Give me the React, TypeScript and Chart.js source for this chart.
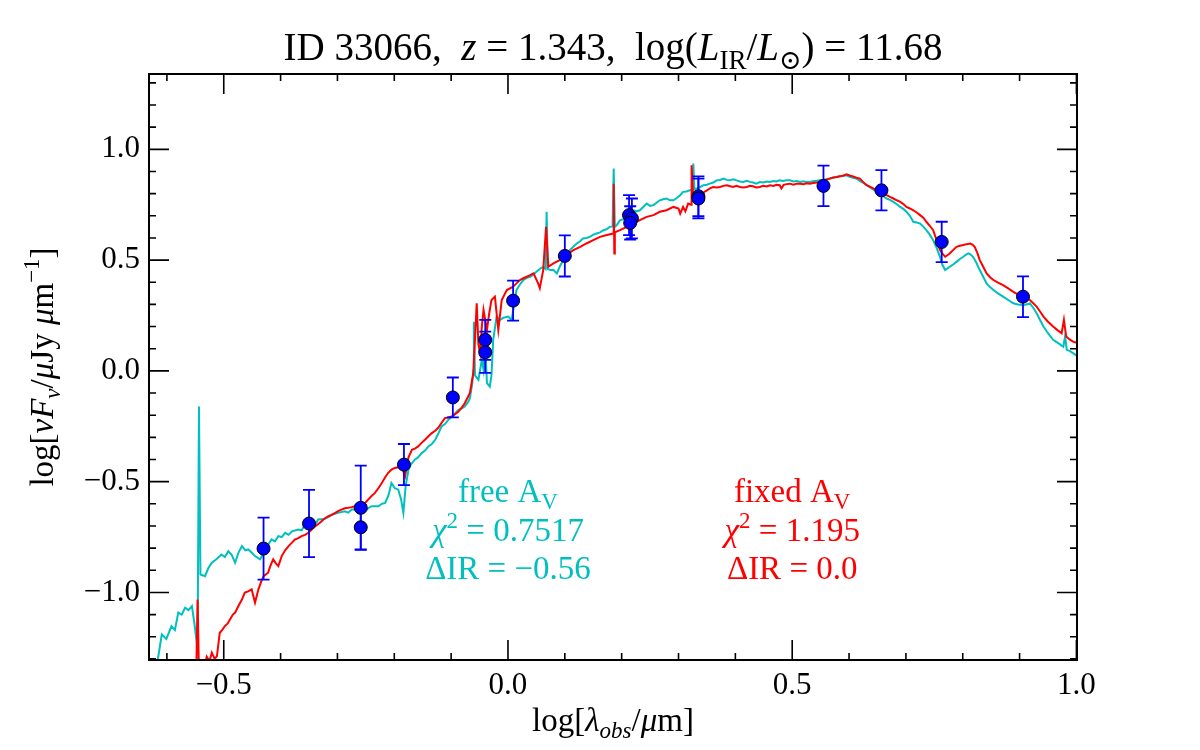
import React, { useEffect, useRef } from "react";
import { Chart, registerables } from "chart.js";
Chart.register(...registerables);

// ---------- data ----------
const cyanX = [-0.622,-0.615,-0.609,-0.601,-0.592,-0.586,-0.580,-0.574,-0.568,-0.562,-0.556,-0.551,-0.546,-0.5436,-0.541,-0.533,-0.527,-0.521,-0.513,-0.504,-0.498,-0.492,-0.486,-0.480,-0.474,-0.468,-0.462,-0.457,-0.451,-0.445,-0.436,-0.427,-0.416,-0.410,-0.404,-0.398,-0.392,-0.386,-0.380,-0.369,-0.363,-0.357,-0.345,-0.340,-0.334,-0.322,-0.316,-0.310,-0.299,-0.287,-0.281,-0.275,-0.263,-0.252,-0.246,-0.240,-0.228,-0.222,-0.216,-0.210,-0.205,-0.199,-0.193,-0.188,-0.184,-0.180,-0.175,-0.170,-0.164,-0.158,-0.152,-0.146,-0.140,-0.134,-0.128,-0.122,-0.117,-0.111,-0.105,-0.096,-0.087,-0.082,-0.076,-0.070,-0.067,-0.063,-0.061,-0.060,-0.058,-0.052,-0.046,-0.043,-0.040,-0.037,-0.032,-0.029,-0.026,-0.020,-0.014,-0.008,0.0005,0.0065,0.015,0.021,0.027,0.033,0.039,0.045,0.050,0.056,0.062,0.066,0.068,0.070,0.075,0.080,0.086,0.091,0.097,0.103,0.109,0.115,0.121,0.127,0.132,0.138,0.144,0.150,0.156,0.162,0.168,0.174,0.179,0.184,0.186,0.188,0.192,0.197,0.203,0.209,0.215,0.220,0.226,0.232,0.238,0.244,0.250,0.256,0.262,0.267,0.273,0.279,0.285,0.291,0.297,0.303,0.308,0.314,0.320,0.325,0.326,0.328,0.332,0.338,0.344,0.350,0.355,0.361,0.367,0.373,0.379,0.385,0.390,0.396,0.402,0.408,0.414,0.420,0.426,0.431,0.437,0.443,0.449,0.455,0.461,0.467,0.472,0.478,0.484,0.490,0.496,0.502,0.508,0.514,0.520,0.525,0.531,0.537,0.543,0.549,0.555,0.560,0.566,0.572,0.578,0.584,0.590,0.596,0.602,0.607,0.613,0.619,0.625,0.631,0.637,0.643,0.649,0.655,0.660,0.666,0.672,0.678,0.684,0.690,0.696,0.701,0.707,0.713,0.719,0.725,0.731,0.736,0.742,0.748,0.754,0.760,0.764,0.769,0.773,0.777,0.783,0.789,0.795,0.801,0.806,0.810,0.814,0.818,0.824,0.830,0.836,0.842,0.848,0.854,0.862,0.871,0.880,0.889,0.897,0.906,0.912,0.918,0.924,0.930,0.936,0.942,0.950,0.959,0.968,0.977,0.980,0.983,0.988,0.994,1.003];
const cyanY = [-1.40,-1.287,-1.189,-1.21,-1.152,-1.17,-1.091,-1.10,-1.069,-1.08,-1.062,-1.152,-1.257,-0.161,-0.919,-0.927,-0.89,-0.866,-0.85,-0.829,-0.84,-0.814,-0.83,-0.866,-0.82,-0.791,-0.81,-0.806,-0.82,-0.836,-0.851,-0.806,-0.761,-0.77,-0.746,-0.75,-0.731,-0.74,-0.724,-0.716,-0.72,-0.694,-0.686,-0.70,-0.671,-0.668,-0.66,-0.649,-0.641,-0.634,-0.64,-0.626,-0.626,-0.634,-0.62,-0.611,-0.611,-0.60,-0.596,-0.56,-0.506,-0.53,-0.536,-0.58,-0.641,-0.52,-0.446,-0.42,-0.401,-0.39,-0.371,-0.36,-0.341,-0.33,-0.311,-0.28,-0.251,-0.24,-0.221,-0.20,-0.176,-0.17,-0.161,-0.14,-0.123,-0.06,0.0,0.222,-0.02,-0.04,0.05,0.005,0.12,-0.055,-0.071,-0.02,0.14,0.245,0.23,0.24,0.245,0.23,0.365,0.39,0.41,0.42,0.425,0.435,0.447,0.46,0.470,0.46,0.718,0.46,0.455,0.455,0.440,0.47,0.5,0.52,0.545,0.56,0.575,0.585,0.598,0.60,0.605,0.615,0.620,0.625,0.635,0.64,0.650,0.652,0.913,0.650,0.66,0.680,0.685,0.695,0.71,0.725,0.72,0.725,0.74,0.755,0.745,0.748,0.76,0.770,0.775,0.778,0.77,0.770,0.78,0.793,0.808,0.81,0.815,0.82,0.936,0.82,0.823,0.83,0.838,0.84,0.845,0.85,0.860,0.862,0.868,0.862,0.860,0.865,0.860,0.855,0.853,0.858,0.853,0.85,0.845,0.852,0.85,0.855,0.853,0.857,0.855,0.860,0.857,0.86,0.860,0.855,0.857,0.853,0.856,0.852,0.853,0.856,0.858,0.860,0.862,0.865,0.868,0.872,0.875,0.878,0.88,0.883,0.875,0.872,0.868,0.858,0.848,0.838,0.828,0.818,0.808,0.798,0.788,0.778,0.772,0.763,0.752,0.740,0.73,0.718,0.70,0.673,0.67,0.665,0.65,0.635,0.615,0.590,0.555,0.515,0.48,0.455,0.462,0.470,0.48,0.492,0.505,0.515,0.525,0.530,0.525,0.515,0.488,0.455,0.425,0.395,0.378,0.365,0.35,0.335,0.32,0.305,0.30,0.297,0.30,0.305,0.285,0.260,0.23,0.200,0.17,0.140,0.125,0.109,0.155,0.095,0.09,0.080,0.064];

const redX = [-0.549,-0.546,-0.543,-0.536,-0.530,-0.525,-0.521,-0.516,-0.512,-0.507,-0.503,-0.498,-0.493,-0.489,-0.484,-0.480,-0.474,-0.468,-0.463,-0.457,-0.451,-0.445,-0.439,-0.434,-0.430,-0.422,-0.418,-0.413,-0.408,-0.404,-0.398,-0.392,-0.386,-0.380,-0.375,-0.369,-0.363,-0.357,-0.351,-0.345,-0.339,-0.333,-0.328,-0.322,-0.316,-0.310,-0.304,-0.298,-0.293,-0.287,-0.281,-0.275,-0.269,-0.263,-0.257,-0.251,-0.246,-0.240,-0.234,-0.228,-0.222,-0.216,-0.211,-0.205,-0.199,-0.193,-0.187,-0.181,-0.175,-0.169,-0.163,-0.158,-0.152,-0.146,-0.140,-0.134,-0.128,-0.123,-0.117,-0.111,-0.105,-0.099,-0.093,-0.087,-0.081,-0.076,-0.071,-0.067,-0.061,-0.058,-0.055,-0.052,-0.049,-0.046,-0.043,-0.037,-0.033,-0.029,-0.023,-0.017,-0.011,-0.002,0.009,0.015,0.021,0.027,0.033,0.039,0.045,0.053,0.056,0.062,0.067,0.071,0.080,0.091,0.103,0.115,0.127,0.138,0.150,0.162,0.174,0.185,0.186,0.187,0.188,0.197,0.209,0.220,0.232,0.244,0.256,0.267,0.279,0.291,0.300,0.303,0.308,0.312,0.317,0.322,0.323,0.326,0.332,0.338,0.344,0.350,0.356,0.361,0.367,0.373,0.379,0.385,0.391,0.396,0.402,0.408,0.414,0.420,0.426,0.431,0.437,0.443,0.449,0.455,0.461,0.467,0.472,0.478,0.481,0.485,0.490,0.496,0.502,0.508,0.514,0.520,0.525,0.531,0.537,0.543,0.549,0.555,0.560,0.566,0.572,0.578,0.584,0.590,0.596,0.601,0.607,0.613,0.619,0.625,0.631,0.640,0.649,0.657,0.666,0.672,0.678,0.684,0.690,0.696,0.701,0.707,0.713,0.719,0.725,0.731,0.736,0.742,0.748,0.754,0.760,0.764,0.769,0.773,0.777,0.783,0.789,0.795,0.801,0.807,0.813,0.817,0.821,0.826,0.830,0.836,0.842,0.848,0.854,0.862,0.871,0.880,0.889,0.897,0.906,0.912,0.918,0.924,0.930,0.936,0.942,0.950,0.959,0.966,0.974,0.978,0.982,0.988,0.994,1.003];
const redY = [-1.45,-1.032,-1.45,-1.36,-1.29,-1.31,-1.272,-1.30,-1.287,-1.182,-1.17,-1.152,-1.14,-1.122,-1.10,-1.091,-1.06,-1.032,-1.001,-0.995,-0.986,-1.046,-0.986,-0.95,-0.927,-0.911,-0.88,-0.851,-0.87,-0.881,-0.836,-0.81,-0.791,-0.775,-0.761,-0.755,-0.746,-0.74,-0.731,-0.715,-0.701,-0.69,-0.679,-0.665,-0.656,-0.65,-0.641,-0.632,-0.626,-0.62,-0.618,-0.615,-0.611,-0.605,-0.611,-0.595,-0.581,-0.565,-0.551,-0.53,-0.506,-0.48,-0.461,-0.445,-0.438,-0.435,-0.431,-0.476,-0.39,-0.356,-0.35,-0.341,-0.325,-0.311,-0.295,-0.281,-0.27,-0.258,-0.235,-0.213,-0.21,-0.206,-0.195,-0.183,-0.165,-0.146,-0.12,-0.100,-0.010,0.15,0.305,0.12,0.080,0.2,0.275,0.185,0.26,0.320,0.335,0.185,0.320,0.365,0.380,0.395,0.410,0.418,0.425,0.432,0.440,0.395,0.373,0.455,0.650,0.470,0.485,0.500,0.523,0.545,0.560,0.575,0.590,0.605,0.613,0.620,0.845,0.530,0.625,0.635,0.650,0.665,0.680,0.695,0.703,0.718,0.725,0.740,0.733,0.710,0.740,0.72,0.755,0.75,0.928,0.770,0.78,0.793,0.805,0.815,0.825,0.830,0.828,0.830,0.835,0.838,0.833,0.830,0.835,0.830,0.828,0.830,0.835,0.833,0.828,0.830,0.835,0.832,0.838,0.835,0.84,0.838,0.823,0.84,0.843,0.845,0.84,0.845,0.845,0.842,0.847,0.845,0.848,0.85,0.853,0.858,0.862,0.868,0.873,0.875,0.878,0.882,0.887,0.882,0.878,0.872,0.868,0.852,0.838,0.827,0.815,0.805,0.793,0.785,0.778,0.770,0.763,0.752,0.740,0.733,0.725,0.715,0.703,0.69,0.673,0.655,0.635,0.59,0.545,0.53,0.515,0.522,0.530,0.545,0.560,0.565,0.568,0.572,0.575,0.57,0.560,0.53,0.500,0.47,0.440,0.423,0.410,0.398,0.387,0.372,0.357,0.345,0.335,0.328,0.320,0.305,0.290,0.268,0.245,0.222,0.200,0.185,0.170,0.230,0.155,0.142,0.132,0.125];

const obsX = [-0.430,-0.350,-0.259,-0.259,-0.183,-0.097,-0.040,-0.040,0.009,0.100,0.213,0.218,0.215,0.335,0.335,0.555,0.657,0.763,0.906];
const obsY = [-0.802,-0.689,-0.618,-0.706,-0.423,-0.120,0.140,0.084,0.317,0.519,0.703,0.688,0.668,0.788,0.778,0.835,0.815,0.582,0.335];
const obsErr = [0.14,0.152,0.19,0.10,0.093,0.09,0.09,0.093,0.09,0.093,0.09,0.09,0.075,0.09,0.09,0.091,0.091,0.091,0.092];

const xTickValues = [-0.5, 0.0, 0.5, 1.0];
const yTickValues = [-1.0, -0.5, 0.0, 0.5, 1.0];
const X_MIN = -0.6315, X_MAX = 1.001, Y_MIN = -1.305, Y_MAX = 1.34;
const MINOR_STEP = 0.1;

const annX = [0.0, 0.5];
const annY = [-0.59, -0.77, -0.94];

const CYAN = "#00bfbf";
const RED = "#ff0000";
const BLUE = "#0000ff";
const FAM = '"Liberation Serif", "DejaVu Serif", serif';

type Seg = { t: string; it?: boolean; sub?: boolean; sup?: boolean };

function drawRich(ctx: CanvasRenderingContext2D, segs: Seg[], x: number, y: number, size: number, color: string) {
  const fontFor = (s: Seg) => `${s.it ? "italic " : ""}${s.sub || s.sup ? Math.round(size * 0.7) : size}px ${FAM}`;
  let total = 0;
  const widths = segs.map((s) => {
    ctx.font = fontFor(s);
    const w = ctx.measureText(s.t).width;
    total += w;
    return w;
  });
  let cx = x - total / 2;
  ctx.fillStyle = color;
  ctx.textAlign = "left";
  ctx.textBaseline = "alphabetic";
  segs.forEach((s, i) => {
    ctx.font = fontFor(s);
    const dy = s.sub ? size * 0.22 : s.sup ? -size * 0.42 : 0;
    ctx.fillText(s.t, cx, y + dy);
    cx += widths[i];
  });
}

const fmt = (v: number) => (Math.abs(v) < 1e-9 ? "0.0" : (v < 0 ? "\u2212" : "") + Math.abs(v).toFixed(1));

const decorPlugin = {
  id: "decor",
  beforeDatasetDraw(chart: any, args: any) {
    if (args.index !== 0) return;
    const ctx = chart.ctx as CanvasRenderingContext2D;
    const xs = chart.scales.x, ys = chart.scales.y;
    ctx.save();
    ctx.strokeStyle = BLUE;
    ctx.lineWidth = 1.8;
    obsX.forEach((xv, i) => {
      const px = xs.getPixelForValue(xv);
      const top = ys.getPixelForValue(obsY[i] + obsErr[i]);
      const bot = ys.getPixelForValue(obsY[i] - obsErr[i]);
      ctx.beginPath();
      ctx.moveTo(px, top); ctx.lineTo(px, bot);
      ctx.moveTo(px - 6, top); ctx.lineTo(px + 6, top);
      ctx.moveTo(px - 6, bot); ctx.lineTo(px + 6, bot);
      ctx.stroke();
    });
    ctx.restore();
  },
  afterDraw(chart: any) {
    const ctx = chart.ctx as CanvasRenderingContext2D;
    const a = chart.chartArea;
    const xs = chart.scales.x, ys = chart.scales.y;
    ctx.save();
    // frame
    ctx.strokeStyle = "#000";
    ctx.lineWidth = 2;
    ctx.strokeRect(a.left, a.top, a.right - a.left, a.bottom - a.top);
    // ticks
    ctx.lineWidth = 1.6;
    const MAJ = 20, MIN = 7;
    ctx.beginPath();
    const isMajor = (v: number, arr: number[]) => arr.some((t) => Math.abs(t - v) < 1e-6);
    for (let k = Math.ceil(X_MIN / MINOR_STEP); k * MINOR_STEP <= X_MAX + 1e-9; k++) {
      const v = k * MINOR_STEP;
      const px = xs.getPixelForValue(v);
      const len = isMajor(v, xTickValues) ? MAJ : MIN;
      ctx.moveTo(px, a.bottom); ctx.lineTo(px, a.bottom - len);
      ctx.moveTo(px, a.top); ctx.lineTo(px, a.top + len);
    }
    for (let k = Math.ceil(Y_MIN / MINOR_STEP); k * MINOR_STEP <= Y_MAX + 1e-9; k++) {
      const v = k * MINOR_STEP;
      const py = ys.getPixelForValue(v);
      const len = isMajor(v, yTickValues) ? MAJ : MIN;
      ctx.moveTo(a.left, py); ctx.lineTo(a.left + len, py);
      ctx.moveTo(a.right, py); ctx.lineTo(a.right - len, py);
    }
    ctx.stroke();

    const cxArea = (a.left + a.right) / 2;
    // title
    drawRich(ctx, [
      { t: "ID 33066,  " }, { t: "z", it: true }, { t: " = 1.343,  log(" },
      { t: "L", it: true }, { t: "IR", sub: true }, { t: "/" }, { t: "L", it: true },
      { t: "\u2299", sub: true }, { t: ") = 11.68" },
    ], cxArea, 60, 39, "#000");
    // x title
    drawRich(ctx, [
      { t: "log[" }, { t: "\u03bb", it: true }, { t: "obs", it: true, sub: true },
      { t: "/" }, { t: "\u03bc", it: true }, { t: "m]" },
    ], cxArea, 731, 33, "#000");
    // y title
    ctx.save();
    ctx.translate(53, (a.top + a.bottom) / 2);
    ctx.rotate(-Math.PI / 2);
    drawRich(ctx, [
      { t: "log[" }, { t: "\u03bdF", it: true }, { t: "\u03bd", it: true, sub: true },
      { t: "/" }, { t: "\u03bc", it: true }, { t: "Jy " }, { t: "\u03bc", it: true },
      { t: "m" }, { t: "\u22121", sup: true }, { t: "]" },
    ], 0, 0, 33, "#000");
    ctx.restore();
    // annotations
    const ax0 = xs.getPixelForValue(annX[0]);
    const ax1 = xs.getPixelForValue(annX[1]);
    const ay = annY.map((v) => ys.getPixelForValue(v));
    const AS = 33;
    drawRich(ctx, [{ t: "free A" }, { t: "V", sub: true }], ax0, ay[0], AS, CYAN);
    drawRich(ctx, [{ t: "\u03c7", it: true }, { t: "2", sup: true }, { t: " = 0.7517" }], ax0, ay[1], AS, CYAN);
    drawRich(ctx, [{ t: "\u0394IR = \u22120.56" }], ax0, ay[2], AS, CYAN);
    drawRich(ctx, [{ t: "fixed A" }, { t: "V", sub: true }], ax1, ay[0], AS, RED);
    drawRich(ctx, [{ t: "\u03c7", it: true }, { t: "2", sup: true }, { t: " = 1.195" }], ax1, ay[1], AS, RED);
    drawRich(ctx, [{ t: "\u0394IR = 0.0" }], ax1, ay[2], AS, RED);
    ctx.restore();
  },
};

export default function App() {
  const ref = useRef<HTMLCanvasElement>(null);
  useEffect(() => {
    const toPts = (xs: number[], ys: number[]) => xs.map((x, i) => ({ x, y: ys[i] }));
    const chart = new Chart(ref.current!, {
      type: "scatter",
      data: {
        datasets: [
          {
            label: "obs",
            data: toPts(obsX, obsY),
            pointRadius: 6.5,
            pointBackgroundColor: BLUE,
            pointBorderColor: "#000",
            pointBorderWidth: 1,
            showLine: false,
          },
          {
            label: "fixed",
            data: toPts(redX, redY),
            showLine: true,
            borderColor: RED,
            borderWidth: 2,
            pointRadius: 0,
            tension: 0,
          },
          {
            label: "free",
            data: toPts(cyanX, cyanY),
            showLine: true,
            borderColor: CYAN,
            borderWidth: 2,
            pointRadius: 0,
            tension: 0,
          },
        ],
      },
      options: {
        animation: false,
        responsive: false,
        layout: { padding: { top: 74, right: 123, left: 0, bottom: 0 } },
        plugins: { legend: { display: false }, tooltip: { enabled: false }, title: { display: false } },
        scales: {
          x: {
            type: "linear",
            min: X_MIN,
            max: X_MAX,
            grid: { display: false, drawTicks: false },
            border: { display: false },
            afterBuildTicks: (s: any) => { s.ticks = xTickValues.map((v) => ({ value: v })); },
            afterFit: (s: any) => { s.height = 90; },
            ticks: {
              padding: 7,
              color: "#000",
              font: { family: FAM, size: 31 },
              maxRotation: 0,
              autoSkip: false,
              callback: (v: any) => fmt(Number(v)),
            },
          },
          y: {
            type: "linear",
            min: Y_MIN,
            max: Y_MAX,
            grid: { display: false, drawTicks: false },
            border: { display: false },
            afterBuildTicks: (s: any) => { s.ticks = yTickValues.map((v) => ({ value: v })); },
            afterFit: (s: any) => { s.width = 149; },
            ticks: {
              padding: 9,
              color: "#000",
              font: { family: FAM, size: 31 },
              autoSkip: false,
              callback: (v: any) => fmt(Number(v)),
            },
          },
        },
      },
      plugins: [decorPlugin],
    });
    return () => chart.destroy();
  }, []);
  return (
    <div style={{ position: "fixed", left: 0, top: 0, width: 1200, height: 750, background: "#fff" }}>
      <canvas ref={ref} width={1200} height={750} style={{ width: 1200, height: 750, display: "block" }} />
    </div>
  );
}
